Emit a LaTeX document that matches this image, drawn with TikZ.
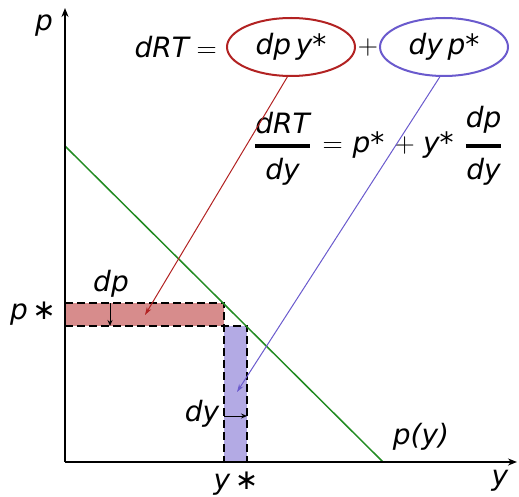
\RequirePackage{fix-cm}
\documentclass[tikz,border=0pt]{standalone}
\usepackage{amsmath}
\usepackage{fontspec}
\setmainfont{DejaVu Sans}
\usetikzlibrary{arrows.meta,shapes.geometric}
\newcommand{\tv}[1]{\text{\itshape #1}}
\definecolor{myred}{RGB}{178,34,34}
\definecolor{myblue}{RGB}{106,90,205}
\definecolor{mygreen}{RGB}{34,139,34}
\definecolor{redfill}{RGB}{215,140,140}
\definecolor{bluefill}{RGB}{179,170,228}
\tikzset{
  lbl/.style={inner sep=0pt, font=\fontsize{28}{32}\selectfont},
  axis/.style={line width=2.5pt, -{Stealth[length=9pt,width=7pt]}},
  dashbox/.style={line width=1.8pt, dash pattern=on 8pt off 4pt},
  oval/.style={ellipse, line width=2pt, minimum width=128pt, minimum height=58pt, inner sep=0pt, font=\fontsize{28}{32}\selectfont},
  conn/.style={line width=1pt, -{Stealth[length=8pt,width=5pt]}},
  small/.style={line width=1pt, -{Stealth[length=6pt,width=5pt,inset=2pt]}}
}
\begin{document}
\begin{tikzpicture}[x=1pt,y=-1pt]
\useasboundingbox (0,0) rectangle (519,497);
% fills
\fill[redfill] (65,303) rectangle (224,326);
\fill[bluefill] (224,326) rectangle (247,462);
% coordinates
\coordinate (O) at (65,462);
\coordinate (ytip) at (65,8);
\coordinate (xtip) at (517,462);
\coordinate (g1) at (65,146);
\coordinate (g2) at (383,462);
\coordinate (a1) at (65,303);
\coordinate (a2) at (224,303);
\coordinate (b1) at (65,326);
\coordinate (b2) at (247,326);
\coordinate (c1) at (224,462);
\coordinate (c2) at (247,462);
\coordinate (dpT) at (110,303);
\coordinate (dpB) at (110,326);
\coordinate (dyL) at (224,416);
\coordinate (dyR) at (247,416);
\coordinate (rt) at (145,315);
\coordinate (bt) at (237,392);
% dashed lines
\draw[dashbox] (a1) -- (a2) -- (c1);
\draw[dashbox] (b1) -- (b2) -- (c2);
% green line
\draw[mygreen, line width=1.5pt] (g1) -- (g2);
% axes
\draw[axis] (O) -- (ytip);
\draw[axis] (O) -- (xtip);
% small arrows
\draw[small] (dpT) -- (dpB);
\draw[small] (dyL) -- (dyR);
% labels
\node[lbl] (lp) at (44,26) {\itshape p};
\node[lbl] (ly) at (500,481) {\itshape y};
\node[lbl] (lpy) at (421,437) {\itshape p(y)};
\node[lbl] (lps) at (33,314) {\itshape p\,∗};
\node[lbl] (lys) at (236,484) {\itshape y\,∗};
\node[lbl] (ldp) at (111,284) {\itshape dp};
\node[lbl] (ldy) at (202,414) {\itshape dy};
% top equation
\node[lbl, anchor=east] (lhs) at (217,47) {$\tv{dRT} =$};
\node[oval, draw=myred] (e1) at (291,47) {\itshape dp\,y*};
\node[lbl] (plus) at (368,48) {$+$};
\node[oval, draw=myblue] (e2) at (444,47) {\itshape dy\,p*};
% second equation
\node[lbl, anchor=west] (eq2) at (254,146) {$\genfrac{}{}{3.5pt}{0}{\tv{dRT}}{\tv{dy}} \mathrel{\hspace{4pt}=\hspace{2pt}} \tv{p*}\hspace{4pt} + \hspace{2pt}\tv{y*}\hspace{11pt}\genfrac{}{}{3.5pt}{0}{\tv{dp}}{\tv{dy}}$};
% connectors
\draw[conn, myred] (e1.263) -- (rt);
\draw[conn, myblue] (e2.262) -- (bt);
\end{tikzpicture}
\end{document}
